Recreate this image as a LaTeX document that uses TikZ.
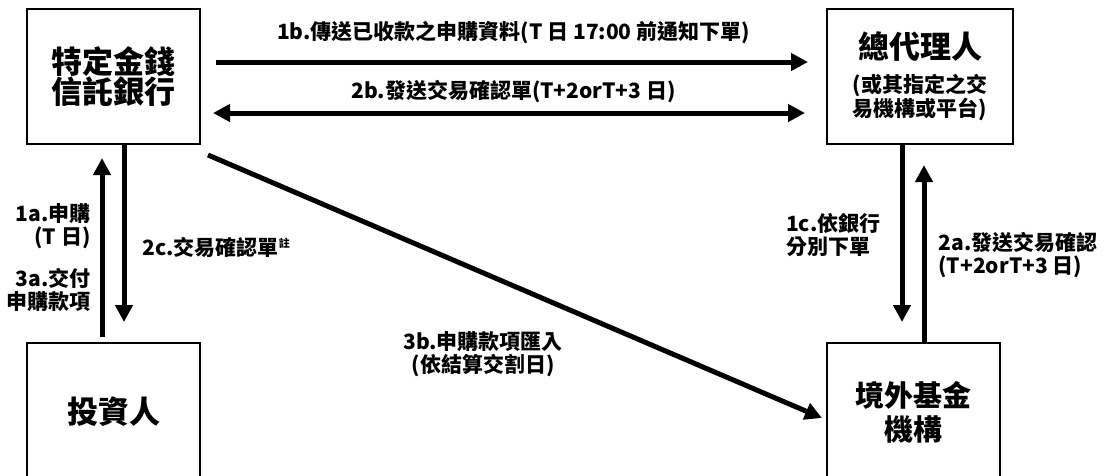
\documentclass[tikz,border=0pt]{standalone}
\usepackage{fontspec}
\setmainfont{Noto Sans CJK TC}
\usepackage{tikz}
\usetikzlibrary{arrows.meta, positioning}
\tikzstyle{rect} = [rectangle, draw, line width=2.5pt, outer sep=0pt, inner sep=0pt, align=center]
\tikzstyle{line} = [draw, -{Triangle[length=17pt,width=17pt]}, line width=5pt]
\tikzstyle{twoway} = [line, {Triangle[length=17pt,width=17pt]}-{Triangle[length=17pt,width=17pt]}]
\tikzstyle{note} = [inner sep=0pt, font=\bfseries\fontsize{21}{23}\selectfont]

\begin{document}
\begin{tikzpicture}[x=1pt, y=-1pt]
  \path [use as bounding box, fill=white] (0,0) rectangle (1105,475);
  \node (bank) [rect, minimum width=173pt, minimum height=135pt, font=\bfseries\fontsize{31}{29}\selectfont] at (113.5,76.5) {特定金錢\\信託銀行};
  \node (agent) [rect, minimum width=186pt, minimum height=135pt, font=\bfseries\fontsize{21}{22}\selectfont] at (920,76.5) {{\fontsize{31}{31}\selectfont 總代理人}\\[12pt](或其指定之交\\易機構或平台)};
  \node (investor) [rect, minimum width=173pt, minimum height=138pt, font=\bfseries\fontsize{31}{31}\selectfont, below=199pt of bank] {投資人};
  \node (fund) [rect, minimum width=173pt, minimum height=138pt, font=\bfseries\fontsize{29}{34}\selectfont, below=199pt of agent.south west, anchor=north west] {境外基金\\機構};
  \draw [line, shorten <=16pt, shorten >=19pt] ([yshift=14.5pt]bank.east) -- ([yshift=14.5pt]agent.west)
    node [note, midway, yshift=29pt] (l1b) {1b.傳送已收款之申購資料(T 日 17:00 前通知下單)};
  \draw [twoway, shorten <=13pt, shorten >=22pt] ([yshift=-36.5pt]bank.east) -- ([yshift=-36.5pt]agent.west)
    node [note, midway, yshift=21pt] (l2b) {2b.發送交易確認單(T+2orT+3 日)};
  \draw [line, shorten >=21pt] ([xshift=10.5pt]bank.south) -- ([xshift=10.5pt]investor.north)
    node [note, pos=0.518, right=16pt] (l2c) {2c.交易確認單\raisebox{8pt}{\fontsize{11}{11}\selectfont 註}};
  \draw [line, shorten <=6pt, shorten >=14pt] ([xshift=-11.5pt]investor.north) -- ([xshift=-11.5pt]bank.south)
    node [note, align=right, pos=0.588, left=9pt] (l1a) {1a.申購\\(T 日)}
    node [note, align=right, pos=0.266, left=9pt] (l3a) {3a.交付\\申購款項};
  \draw [line, shorten >=21pt] ([xshift=-18pt]agent.south) -- ([xshift=-11.5pt]fund.north)
    node [note, align=left, pos=0.457, left=19pt] (l1c) {1c.依銀行\\分別下單};
  \draw [line, shorten >=21pt] ([xshift=10.5pt]fund.north) -- ([xshift=4pt]agent.south)
    node [note, align=left, pos=0.44, right=12pt] (l2a) {2a.發送交易確認\\(T+2orT+3 日)};
  \draw [line] ([xshift=8pt,yshift=-11pt]bank.south east) -- ([xshift=-5pt,yshift=-6pt]fund.west)
    node [note, align=center, pos=0.448, yshift=-81pt] (l3b) {3b.申購款項匯入\\(依結算交割日)};
\end{tikzpicture}
\end{document}
